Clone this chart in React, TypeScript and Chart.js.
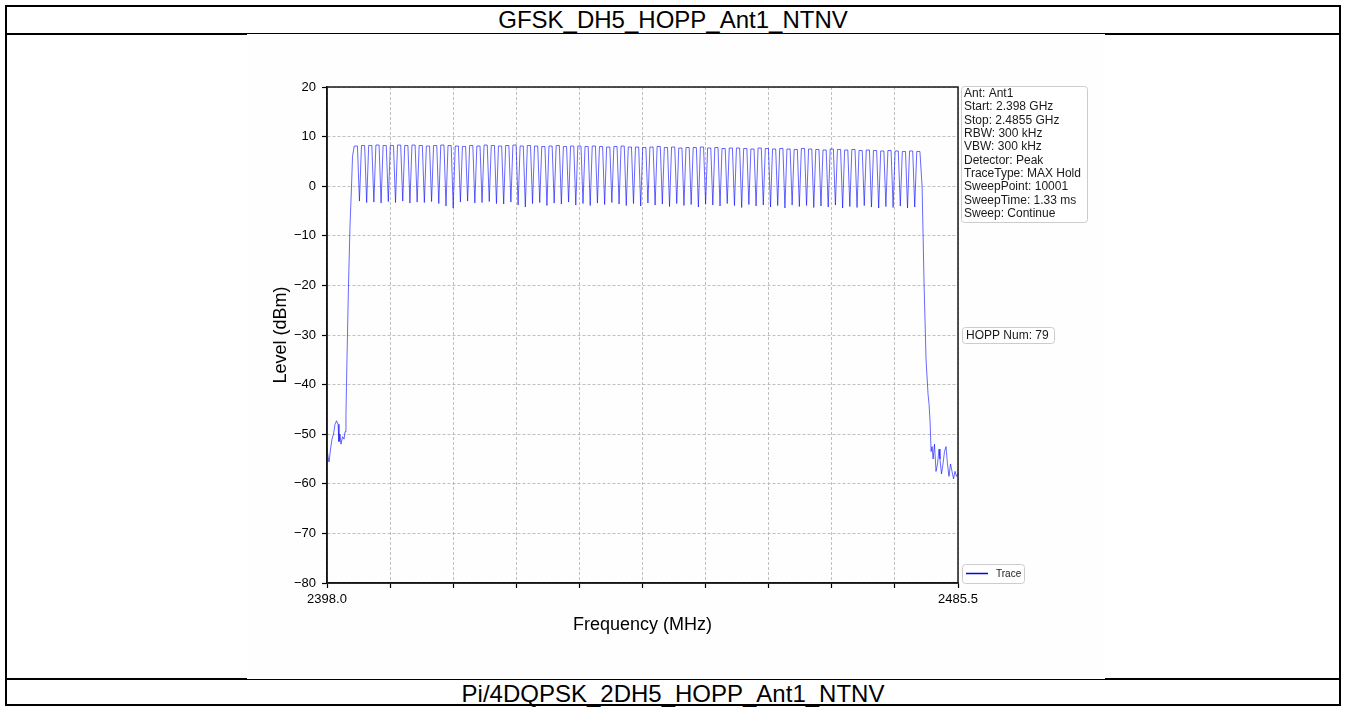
import React, { useEffect, useRef } from 'react';
import { Chart, registerables } from 'chart.js';

Chart.register(...registerables);

const topTitle = 'GFSK_DH5_HOPP_Ant1_NTNV';
const bottomTitle = 'Pi/4DQPSK_2DH5_HOPP_Ant1_NTNV';
const xAxisTitle = 'Frequency (MHz)';
const yAxisTitle = 'Level (dBm)';

const xTickValues = [2398.0, 2406.75, 2415.5, 2424.25, 2433.0, 2441.75, 2450.5, 2459.25, 2468.0, 2476.75, 2485.5];
const xTickLabels = ['2398.0', '', '', '', '', '', '', '', '', '', '2485.5'];
const yTickValues = [-80, -70, -60, -50, -40, -30, -20, -10, 0, 10, 20];

const channelFreqs = [
  2402, 2403, 2404, 2405, 2406, 2407, 2408, 2409, 2410, 2411, 2412, 2413, 2414, 2415, 2416, 2417, 2418, 2419, 2420,
  2421, 2422, 2423, 2424, 2425, 2426, 2427, 2428, 2429, 2430, 2431, 2432, 2433, 2434, 2435, 2436, 2437, 2438, 2439, 2440,
  2441, 2442, 2443, 2444, 2445, 2446, 2447, 2448, 2449, 2450, 2451, 2452, 2453, 2454, 2455, 2456, 2457, 2458, 2459, 2460,
  2461, 2462, 2463, 2464, 2465, 2466, 2467, 2468, 2469, 2470, 2471, 2472, 2473, 2474, 2475, 2476, 2477, 2478, 2479, 2480,
];

const peakLevels = [
  8.1, 8.2, 8.2, 8.3, 8.2, 8.2, 8.3, 8.2, 8.3, 8.2, 8.1, 8.2, 8.3, 8.2, 8.1, 8.0, 8.2, 8.1, 8.3,
  8.2, 8.1, 8.2, 8.3, 8.1, 8.2, 8.1, 8.0, 8.1, 8.2, 8.0, 8.1, 8.1, 8.0, 8.1, 8.0, 7.9, 8.0, 8.1, 7.9,
  7.9, 7.8, 7.9, 8.0, 7.8, 7.9, 7.7, 7.8, 7.8, 7.9, 7.7, 7.8, 7.6, 7.7, 7.7, 7.6, 7.5, 7.7, 7.6, 7.5,
  7.6, 7.5, 7.4, 7.6, 7.5, 7.4, 7.3, 7.5, 7.4, 7.3, 7.4, 7.2, 7.3, 7.2, 7.1, 7.2, 7.1, 7.0, 7.1, 7.0,
];

const dipLevels = [
  -3.0, -3.3, -3.2, -3.4, -3.1, -3.3, -3.0, -3.4, -3.2, -3.3, -3.1, -3.5, -4.0, -4.4, -3.2, -3.0, -3.4, -3.3, -3.1, -3.5,
  -3.6, -3.2, -3.8, -4.2, -3.5, -3.3, -3.9, -3.4, -3.6, -3.2, -3.8, -3.5, -3.9, -3.4, -3.7, -3.3, -3.6, -3.9, -3.5, -4.0,
  -3.4, -3.8, -3.6, -4.1, -3.5, -3.9, -3.7, -4.2, -3.6, -3.8, -4.0, -3.5, -3.9, -4.3, -3.7, -4.0, -3.8, -4.2, -3.9, -4.4,
  -3.8, -4.1, -3.9, -4.3, -4.0, -4.2, -3.8, -4.4, -4.1, -4.3, -3.9, -4.2, -4.4, -4.1, -4.3, -4.0, -4.4, -4.2,
];

const leftEdgeFreqs = [2398.0, 2398.14, 2398.28, 2398.49, 2398.69, 2398.9, 2399.11, 2399.32, 2399.53, 2399.66, 2399.8, 2399.94, 2400.15, 2400.36, 2400.5, 2400.63, 2400.77, 2400.98, 2401.19, 2401.4, 2401.54];
const leftEdgeLevels = [-52.8, -54.5, -55.6, -53.0, -51.0, -50.0, -48.0, -47.3, -48.0, -51.5, -50.0, -52.0, -50.5, -51.0, -49.5, -46.0, -35.0, -20.0, -8.0, 0.0, 6.0];

const rightEdgeFreqs = [2480.52, 2480.8, 2481.07, 2481.35, 2481.49, 2481.63, 2481.77, 2481.91, 2482.05, 2482.24, 2482.45, 2482.66, 2482.87, 2483.0, 2483.21, 2483.42, 2483.63, 2483.84, 2484.04, 2484.25, 2484.46, 2484.67, 2484.88, 2485.09, 2485.29, 2485.5];
const rightEdgeLevels = [0.0, -20.0, -35.0, -42.0, -44.0, -47.5, -53.5, -52.5, -55.0, -52.0, -57.5, -56.0, -53.0, -55.0, -58.0, -56.0, -53.5, -52.5, -56.0, -58.5, -56.0, -57.5, -59.0, -57.5, -58.5, -58.0];

const infoLines = [
  'Ant: Ant1',
  'Start: 2.398 GHz',
  'Stop: 2.4855 GHz',
  'RBW: 300 kHz',
  'VBW: 300 kHz',
  'Detector: Peak',
  'TraceType: MAX Hold',
  'SweepPoint: 10001',
  'SweepTime: 1.33 ms',
  'Sweep: Continue',
];
const hoppLabel = 'HOPP Num: 79';
const legendLabel = 'Trace';

const FONT = '"Liberation Sans", Arial, Helvetica, sans-serif';
const PEAK_HALF_WIDTH = 0.22;

function buildTrace() {
  const pts: { x: number; y: number }[] = [];
  leftEdgeFreqs.forEach((f, i) => pts.push({ x: f, y: leftEdgeLevels[i] }));
  channelFreqs.forEach((ch, i) => {
    pts.push({ x: ch - PEAK_HALF_WIDTH, y: peakLevels[i] });
    pts.push({ x: ch + PEAK_HALF_WIDTH, y: peakLevels[i] });
    if (i < dipLevels.length) pts.push({ x: ch + 0.5, y: dipLevels[i] });
  });
  rightEdgeFreqs.forEach((f, i) => pts.push({ x: f, y: rightEdgeLevels[i] }));
  return pts;
}

function fmtY(v: number) {
  return v < 0 ? '\u2212' + Math.abs(v) : String(v);
}

const decorPlugin = {
  id: 'decor',
  afterDraw(chart: any) {
    const { ctx, chartArea } = chart;
    const { left, top, right, bottom } = chartArea;
    ctx.save();
    ctx.strokeStyle = '#1a1a1a';
    ctx.lineWidth = 1.5;
    ctx.strokeRect(left, top, right - left, bottom - top);

    ctx.fillStyle = '#000';
    ctx.font = `18px ${FONT}`;
    ctx.textAlign = 'center';
    ctx.textBaseline = 'middle';
    ctx.fillText(xAxisTitle, (left + right) / 2, 591);
    ctx.save();
    ctx.translate(34, (top + bottom) / 2);
    ctx.rotate(-Math.PI / 2);
    ctx.fillText(yAxisTitle, 0, 0);
    ctx.restore();

    const box = (x: number, y: number, w: number, h: number) => {
      ctx.beginPath();
      ctx.roundRect(x + 0.5, y + 0.5, w, h, 3);
      ctx.fillStyle = 'rgba(255,255,255,0.9)';
      ctx.fill();
      ctx.strokeStyle = '#cccccc';
      ctx.lineWidth = 1;
      ctx.stroke();
    };

    const bx = right + 3;
    box(bx, 52, 126, 136);
    ctx.fillStyle = '#1a1a1a';
    ctx.font = `12px ${FONT}`;
    ctx.textAlign = 'left';
    ctx.textBaseline = 'middle';
    infoLines.forEach((t, i) => ctx.fillText(t, bx + 3, 59.5 + i * 13.35));

    box(bx + 1, 293, 92, 16);
    ctx.fillStyle = '#1a1a1a';
    ctx.fillText(hoppLabel, bx + 5, 301.5);

    box(bx + 1, 530, 62, 19);
    ctx.strokeStyle = '#0000ff';
    ctx.lineWidth = 1.5;
    ctx.beginPath();
    ctx.moveTo(bx + 5, 539.5);
    ctx.lineTo(bx + 27, 539.5);
    ctx.stroke();
    ctx.fillStyle = '#1a1a1a';
    ctx.font = `10px ${FONT}`;
    ctx.fillText(legendLabel, bx + 35, 540);
    ctx.restore();
  },
};

function SpectrumChart() {
  const ref = useRef<HTMLCanvasElement | null>(null);
  useEffect(() => {
    if (!ref.current) return;
    const chart = new Chart(ref.current, {
      type: 'line',
      data: {
        datasets: [
          {
            label: legendLabel,
            data: buildTrace(),
            borderColor: 'rgba(0,0,255,0.75)',
            borderWidth: 0.8,
            pointRadius: 0,
            tension: 0,
            fill: false,
          },
        ],
      },
      options: {
        animation: false,
        responsive: false,
        devicePixelRatio: 1,
        parsing: false,
        layout: { padding: { top: 53, right: 147, left: 0, bottom: 0 } },
        plugins: { legend: { display: false }, tooltip: { enabled: false }, title: { display: false } },
        scales: {
          x: {
            type: 'linear',
            min: 2398,
            max: 2485.5,
            afterBuildTicks: (scale: any) => {
              scale.ticks = xTickValues.map((v) => ({ value: v }));
            },
            afterFit: (scale: any) => {
              scale.height = 96;
            },
            ticks: {
              autoSkip: false,
              maxRotation: 0,
              padding: 4,
              color: '#000',
              font: { family: FONT, size: 13 },
              callback: (_v: any, i: number) => xTickLabels[i],
            },
            grid: {
              color: '#b0b0b0',
              lineWidth: 0.8,
              tickLength: 5,
              tickColor: '#000',
              tickWidth: 1.2,
            },
            border: { display: true, color: '#000', width: 1.5, dash: [3, 2] },
          },
          y: {
            type: 'linear',
            min: -80,
            max: 20,
            afterBuildTicks: (scale: any) => {
              scale.ticks = yTickValues.map((v) => ({ value: v }));
            },
            afterFit: (scale: any) => {
              scale.width = 80;
            },
            ticks: {
              autoSkip: false,
              padding: 6,
              color: '#000',
              font: { family: FONT, size: 13 },
              callback: (v: any) => fmtY(Number(v)),
            },
            grid: {
              color: '#b0b0b0',
              lineWidth: 0.8,
              tickLength: 5,
              tickColor: '#000',
              tickWidth: 1.2,
            },
            border: { display: true, color: '#000', width: 1.5, dash: [3, 2] },
          },
        },
      },
      plugins: [decorPlugin],
    } as any);
    return () => chart.destroy();
  }, []);
  return <canvas ref={ref} width={858} height={645} style={{ position: 'absolute', left: 247, top: 34, width: 858, height: 645, background: '#fefefe' }} />;
}

export default function App() {
  const titleStyle: React.CSSProperties = {
    position: 'absolute',
    left: 0,
    width: 1346,
    textAlign: 'center',
    fontFamily: FONT,
    fontSize: 24,
    lineHeight: '26px',
    color: '#000',
    whiteSpace: 'nowrap',
  };
  return (
    <div style={{ position: 'fixed', left: 0, top: 0, width: 1346, height: 709, background: '#fff', overflow: 'hidden' }}>
      <div style={{ position: 'absolute', left: 5, top: 5, width: 1336, height: 701, border: '2px solid #000', boxSizing: 'border-box' }} />
      <div style={{ position: 'absolute', left: 5, top: 33, width: 1336, height: 2, background: '#000' }} />
      <div style={{ position: 'absolute', left: 5, top: 678, width: 1336, height: 2, background: '#000' }} />
      <div style={{ ...titleStyle, top: 7 }}>{topTitle}</div>
      <div style={{ ...titleStyle, top: 681 }}>{bottomTitle}</div>
      <SpectrumChart />
    </div>
  );
}
